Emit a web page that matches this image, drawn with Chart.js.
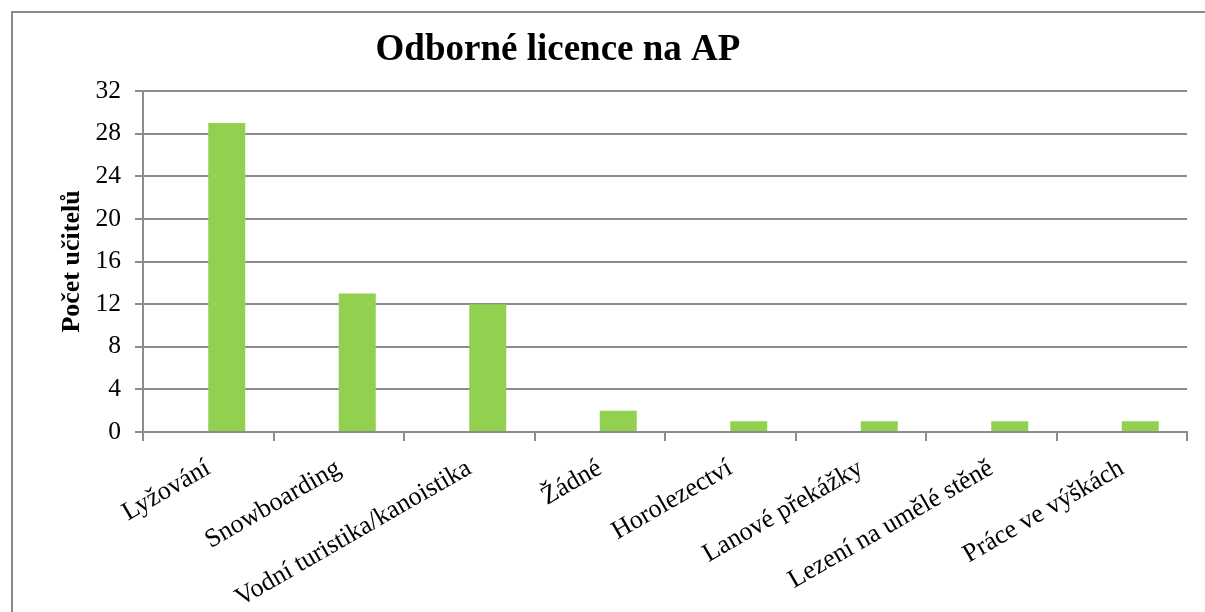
<!DOCTYPE html>
<html>
<head>
<meta charset="utf-8">
<script src="https://cdn.jsdelivr.net/npm/chart.js@4"></script>
<style>
  html, body { margin: 0; padding: 0; background: #fff; overflow: hidden; }
  #box {
    position: absolute;
    left: 11px;
    top: 11px;
    border-left: 2px solid #8a8a8a;
    border-top: 2px solid #8a8a8a;
  }
  canvas { display: block; }
</style>
</head>
<body>
<div id="box"><canvas id="myChart" width="1192" height="599"></canvas></div>
<script>
const categories = [
  "Lyžování",
  "Snowboarding",
  "Vodní turistika/kanoistika",
  "Žádné",
  "Horolezectví",
  "Lanové překážky",
  "Lezení na umělé stěně",
  "Práce ve výškách",
];
const teachers = [29, 13, 12, 2, 1, 1, 1, 1];
const emptySeries = [null, null, null, null, null, null, null, null];
const yTicks = [0, 4, 8, 12, 16, 20, 24, 28, 32];

const chartTitle = "Odborné licence na AP";
const yTitle = "Počet učitelů";

const gridColor = "#8c8c8c";
const fontFamily = "'Liberation Serif', 'Times New Roman', serif";

// title is not centred on the canvas in the original, so draw it by hand
const titlePlugin = {
  id: "manualTitle",
  afterDraw(chart) {
    const c = chart.ctx;
    c.save();
    c.font = "bold 37px " + fontFamily;
    c.fillStyle = "#000";
    c.textAlign = "center";
    c.textBaseline = "alphabetic";
    c.fillText(chartTitle, 545, 47);
    c.restore();
  },
};

const ctx = document.getElementById("myChart").getContext("2d");

const myChart = new Chart(ctx, {
  type: "bar",
  data: {
    labels: categories,
    datasets: [
      {
        label: "",
        data: emptySeries,
        backgroundColor: "#92D050",
      },
      {
        label: yTitle,
        data: teachers,
        backgroundColor: "#92D050",
      },
    ],
  },
  options: {
    responsive: false,
    animation: false,
    devicePixelRatio: 1,
    categoryPercentage: 0.567,
    barPercentage: 1,
    layout: {
      padding: { top: 78, right: 18, left: 0, bottom: 0 },
    },
    scales: {
      x: {
        afterFit: function (scale) {
          scale.height = 180;
        },
        grid: {
          offset: true,
          drawOnChartArea: false,
          drawTicks: true,
          tickLength: 9,
          color: gridColor,
          lineWidth: 2,
        },
        border: {
          color: gridColor,
          width: 2,
        },
        ticks: {
          color: "#000",
          autoSkip: false,
          maxRotation: 30,
          minRotation: 30,
          padding: 12,
          labelOffset: 0,
          font: { family: fontFamily, size: 26 },
        },
      },
      y: {
        min: 0,
        max: 32,
        afterFit: function (scale) {
          scale.width = 130;
        },
        afterBuildTicks: function (scale) {
          scale.ticks = yTicks.map(function (v) {
            return { value: v };
          });
        },
        grid: {
          color: gridColor,
          lineWidth: 2,
          tickLength: 8,
        },
        border: {
          color: gridColor,
          width: 2,
        },
        ticks: {
          color: "#000",
          padding: 14,
          font: { family: fontFamily, size: 25.5 },
        },
        title: {
          display: true,
          text: yTitle,
          color: "#000",
          padding: { top: 44, bottom: 0 },
          font: { family: fontFamily, size: 26, weight: "bold" },
        },
      },
    },
    plugins: {
      legend: { display: false },
      tooltip: { enabled: false },
    },
  },
  plugins: [titlePlugin],
});
</script>
</body>
</html>
